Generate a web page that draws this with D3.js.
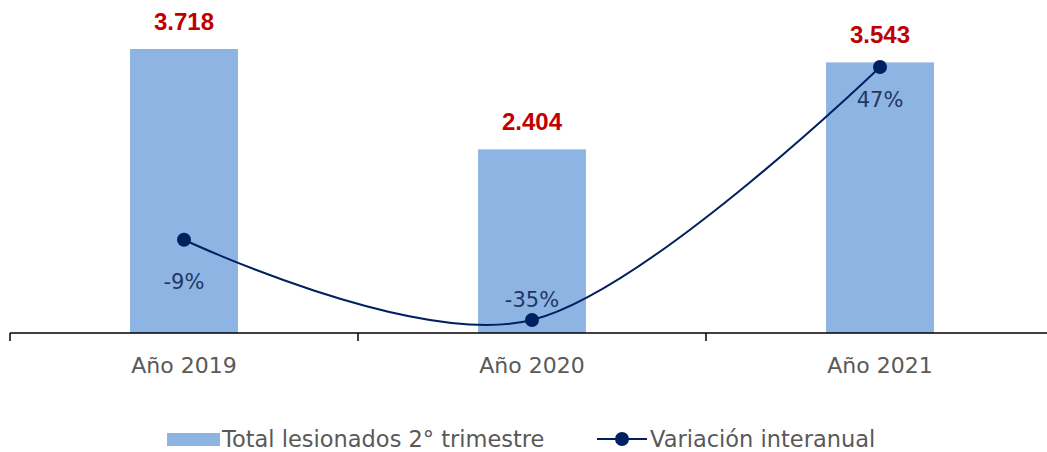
<!DOCTYPE html>
<html>
<head>
<meta charset="utf-8">
<script src="https://cdn.jsdelivr.net/npm/d3@7"></script>
<style>
  body { margin: 0; background: #fff; }
  text { font-family: "Century Gothic", "DejaVu Sans", sans-serif; }
</style>
</head>
<body>
<div id="main"></div>
<script>
var categories = ['Año 2019', 'Año 2020', 'Año 2021'];
var totals = [3718, 2404, 3543];
var totalLabels = ['3.718', '2.404', '3.543'];
var variation = [-9, -35, 47];
var variationLabels = ['-9%', '-35%', '47%'];
var legendNames = ['Total lesionados 2° trimestre', 'Variación interanual'];

var svg = d3.select('#main').append('svg')
    .attr('width', 1047)
    .attr('height', 452);

var baseY = 333;
var xScale = d3.scaleBand().domain(categories).range([10, 1054]).paddingInner(0.69).paddingOuter(0.345);
var yScale = d3.scaleLinear().domain([0, 3718]).range([baseY, 49]);
var y2Scale = d3.scaleLinear().domain([-35, 47]).range([320, 67]);

// bars
svg.append('g').selectAll('rect')
    .data(totals)
    .enter()
    .append('rect')
    .attr('x', function(d, i) { return xScale(categories[i]); })
    .attr('y', function(d) { return yScale(d); })
    .attr('width', xScale.bandwidth())
    .attr('height', function(d) { return baseY - yScale(d); })
    .attr('fill', '#8EB4E3');

// bar labels
svg.append('g').selectAll('text')
    .data(totals)
    .enter()
    .append('text')
    .attr('x', function(d, i) { return xScale(categories[i]) + xScale.bandwidth() / 2; })
    .attr('y', function(d) { return yScale(d) - 19; })
    .attr('text-anchor', 'middle')
    .style('font-family', '"Liberation Sans", Arial, sans-serif')
    .style('font-size', '24px')
    .style('font-weight', 'bold')
    .attr('fill', '#C00000')
    .text(function(d, i) { return totalLabels[i]; });

// x axis
var axis = svg.append('g')
    .attr('transform', 'translate(0,' + baseY + ')');
axis.append('line')
    .attr('x1', 10).attr('x2', 1054)
    .attr('stroke', '#000').attr('stroke-width', 1.5);
axis.selectAll('.tick')
    .data(categories.concat(['end']))
    .enter()
    .append('line')
    .attr('x1', function(d, i) { return 10 + i * 348; })
    .attr('x2', function(d, i) { return 10 + i * 348; })
    .attr('y1', 0).attr('y2', 8)
    .attr('stroke', '#000').attr('stroke-width', 1.5);
axis.selectAll('.lbl')
    .data(categories)
    .enter()
    .append('text')
    .attr('x', function(d) { return xScale(d) + xScale.bandwidth() / 2; })
    .attr('y', 40)
    .attr('text-anchor', 'middle')
    .style('font-size', '22px')
    .attr('fill', '#595959')
    .text(function(d) { return d; });

// line
var line = d3.line()
    .x(function(d, i) { return xScale(categories[i]) + xScale.bandwidth() / 2; })
    .y(function(d) { return y2Scale(d); })
    .curve(d3.curveCardinal.tension(0));

svg.append('path')
    .datum(variation)
    .attr('d', line)
    .attr('fill', 'none')
    .attr('stroke', '#002060')
    .attr('stroke-width', 2);

svg.append('g').selectAll('circle')
    .data(variation)
    .enter()
    .append('circle')
    .attr('cx', function(d, i) { return xScale(categories[i]) + xScale.bandwidth() / 2; })
    .attr('cy', function(d) { return y2Scale(d); })
    .attr('r', 7)
    .attr('fill', '#002060');

var lblOffset = [49, -13, 40];
svg.append('g').selectAll('text')
    .data(variation)
    .enter()
    .append('text')
    .attr('x', function(d, i) { return xScale(categories[i]) + xScale.bandwidth() / 2; })
    .attr('y', function(d, i) { return y2Scale(d) + lblOffset[i]; })
    .attr('text-anchor', 'middle')
    .style('font-size', '21px')
    .attr('fill', '#1F3864')
    .text(function(d, i) { return variationLabels[i]; });

// legend
var leg = svg.append('g');
leg.append('rect')
    .attr('x', 167).attr('y', 433).attr('width', 53).attr('height', 13)
    .attr('fill', '#8EB4E3');
leg.append('text')
    .attr('x', 222).attr('y', 447)
    .style('font-size', '22.5px')
    .attr('fill', '#595959')
    .text(legendNames[0]);
leg.append('line')
    .attr('x1', 597).attr('x2', 647).attr('y1', 439).attr('y2', 439)
    .attr('stroke', '#002060').attr('stroke-width', 2);
leg.append('circle')
    .attr('cx', 622).attr('cy', 439).attr('r', 7)
    .attr('fill', '#002060');
leg.append('text')
    .attr('x', 650).attr('y', 447)
    .style('font-size', '22.5px')
    .attr('fill', '#595959')
    .text(legendNames[1]);
</script>
</body>
</html>
